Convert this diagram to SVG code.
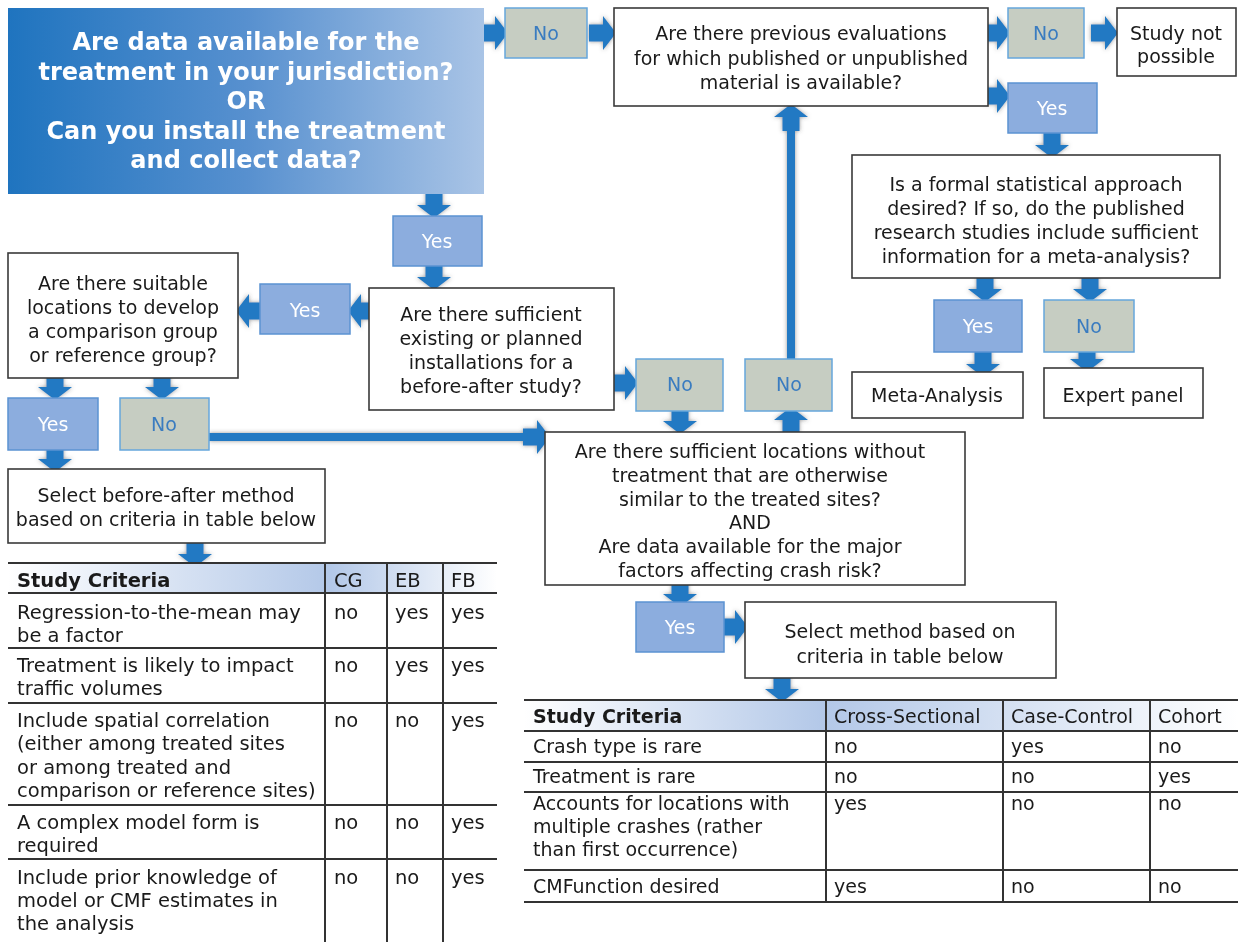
<svg xmlns="http://www.w3.org/2000/svg" xmlns:xlink="http://www.w3.org/1999/xlink" width="1244" height="942" viewBox="0 0 1244 942">
<style>
  .box{fill:#fff;stroke:#3a3a3a;stroke-width:1.6}
  .t{font-family:"DejaVu Sans",Verdana,sans-serif;font-size:19px;fill:#1a1a1a;text-anchor:middle}
  .tl{font-family:"DejaVu Sans",Verdana,sans-serif;font-size:19.5px;fill:#1a1a1a}
  .tr{font-family:"DejaVu Sans",Verdana,sans-serif;font-size:19px;fill:#1a1a1a}
  .title{font-family:"DejaVu Sans",Verdana,sans-serif;font-size:24px;font-weight:bold;fill:#fff;text-anchor:middle}
  .yes{fill:#8cadde;stroke:#5b93d2;stroke-width:1.5}
  .no{fill:#c6cdc2;stroke:#66a6dc;stroke-width:1.5}
  .yt{font-family:"DejaVu Sans",Verdana,sans-serif;font-size:19px;fill:#fff;text-anchor:middle}
  .nt{font-family:"DejaVu Sans",Verdana,sans-serif;font-size:19px;fill:#3a7cc0;text-anchor:middle}
  .arr{fill:#2279c3;filter:url(#sh)}
  .grid{stroke:#333;stroke-width:2}
</style>
<defs>
  <linearGradient id="tg" x1="0" y1="0" x2="1" y2="0">
    <stop offset="0" stop-color="#1f74bf"/>
    <stop offset="0.5" stop-color="#5790cf"/>
    <stop offset="1" stop-color="#a9c4e6"/>
  </linearGradient>
  <linearGradient id="hg1" gradientUnits="userSpaceOnUse" x1="8" y1="0" x2="497" y2="0">
    <stop offset="0" stop-color="#ffffff"/>
    <stop offset="0.66" stop-color="#b3c8e8"/>
    <stop offset="1" stop-color="#ffffff"/>
  </linearGradient>
  <linearGradient id="hg2" gradientUnits="userSpaceOnUse" x1="524" y1="0" x2="1238" y2="0">
    <stop offset="0" stop-color="#ffffff"/>
    <stop offset="0.42" stop-color="#b3c8e8"/>
    <stop offset="1" stop-color="#ffffff"/>
  </linearGradient>
  <filter id="sh" filterUnits="userSpaceOnUse" x="0" y="0" width="1244" height="942">
    <feDropShadow dx="0" dy="0" stdDeviation="2.2" flood-color="#444" flood-opacity="0.55"/>
  </filter>
  <path id="ar" d="M-27,-8.5 L-13,-8.5 L-13,-17 L0,0 L-13,17 L-13,8.5 L-27,8.5 Z"/>
</defs>

<g id="connectors" class="arr">
  <rect x="209" y="433" width="322" height="8"/>
  <rect x="787" y="116" width="8" height="244"/>
  <use href="#ar" transform="translate(508,33)"/>
  <use href="#ar" transform="translate(616,33)"/>
  <use href="#ar" transform="translate(1010,33)"/>
  <use href="#ar" transform="translate(1118,33)"/>
  <use href="#ar" transform="translate(1010,96)"/>
  <use href="#ar" transform="translate(1052,158) rotate(90)"/>
  <use href="#ar" transform="translate(985,302) rotate(90)"/>
  <use href="#ar" transform="translate(1090,302) rotate(90)"/>
  <use href="#ar" transform="translate(983,377) rotate(90)"/>
  <use href="#ar" transform="translate(1087,372) rotate(90)"/>
  <use href="#ar" transform="translate(434,218) rotate(90)"/>
  <use href="#ar" transform="translate(434,290) rotate(90)"/>
  <use href="#ar" transform="translate(348,311) rotate(180)"/>
  <use href="#ar" transform="translate(236,311) rotate(180)"/>
  <use href="#ar" transform="translate(55,400) rotate(90)"/>
  <use href="#ar" transform="translate(162,400) rotate(90)"/>
  <use href="#ar" transform="translate(55,472) rotate(90)"/>
  <use href="#ar" transform="translate(195,567) rotate(90)"/>
  <use href="#ar" transform="translate(638,383)"/>
  <use href="#ar" transform="translate(680,434) rotate(90)"/>
  <use href="#ar" transform="translate(791,407) rotate(-90)"/>
  <use href="#ar" transform="translate(791,104) rotate(-90)"/>
  <use href="#ar" transform="translate(550,437)"/>
  <use href="#ar" transform="translate(680,607) rotate(90)"/>
  <use href="#ar" transform="translate(748,627)"/>
  <use href="#ar" transform="translate(782,702) rotate(90)"/>
</g>

<g id="n-title">
  <rect x="8" y="8" width="476" height="186" fill="url(#tg)"/>
  <text class="title" x="246" y="50">Are data available for the</text>
  <text class="title" x="246" y="80">treatment in your jurisdiction?</text>
  <text class="title" x="246" y="109">OR</text>
  <text class="title" x="246" y="139">Can you install the treatment</text>
  <text class="title" x="246" y="168">and collect data?</text>
</g>

<g id="n-no1"><rect class="no" x="505" y="8" width="82" height="50"/><text class="nt" x="546" y="40">No</text></g>

<g id="n-prev">
  <rect class="box" x="614" y="8" width="374" height="98"/>
  <text class="t" x="801" y="40">Are there previous evaluations</text>
  <text class="t" x="801" y="65">for which published or unpublished</text>
  <text class="t" x="801" y="89">material is available?</text>
</g>

<g id="n-no2"><rect class="no" x="1008" y="8" width="76" height="50"/><text class="nt" x="1046" y="40">No</text></g>

<g id="n-notpossible">
  <rect class="box" x="1117" y="8" width="119" height="68"/>
  <text class="t" x="1176" y="40">Study not</text>
  <text class="t" x="1176" y="63">possible</text>
</g>

<g id="n-yes-prev"><rect class="yes" x="1008" y="83" width="89" height="50"/><text class="yt" x="1052" y="115">Yes</text></g>

<g id="n-formal">
  <rect class="box" x="852" y="155" width="368" height="123"/>
  <text class="t" x="1036" y="191">Is a formal statistical approach</text>
  <text class="t" x="1036" y="215">desired? If so, do the published</text>
  <text class="t" x="1036" y="239">research studies include sufficient</text>
  <text class="t" x="1036" y="263">information for a meta-analysis?</text>
</g>

<g id="n-yes-meta"><rect class="yes" x="934" y="300" width="88" height="52"/><text class="yt" x="978" y="333">Yes</text></g>
<g id="n-no-expert"><rect class="no" x="1044" y="300" width="90" height="52"/><text class="nt" x="1089" y="333">No</text></g>

<g id="n-meta"><rect class="box" x="852" y="372" width="171" height="46"/><text class="t" x="937" y="402">Meta-Analysis</text></g>
<g id="n-expert"><rect class="box" x="1044" y="368" width="159" height="50"/><text class="t" x="1123" y="402">Expert panel</text></g>

<g id="n-yes-mid"><rect class="yes" x="393" y="216" width="89" height="50"/><text class="yt" x="437" y="248">Yes</text></g>

<g id="n-install">
  <rect class="box" x="369" y="288" width="245" height="122"/>
  <text class="t" x="491" y="321">Are there sufficient</text>
  <text class="t" x="491" y="345">existing or planned</text>
  <text class="t" x="491" y="369">installations for a</text>
  <text class="t" x="491" y="393">before-after study?</text>
</g>

<g id="n-yes-left"><rect class="yes" x="260" y="284" width="90" height="50"/><text class="yt" x="305" y="317">Yes</text></g>

<g id="n-suitable">
  <rect class="box" x="8" y="253" width="230" height="125"/>
  <text class="t" x="123" y="290">Are there suitable</text>
  <text class="t" x="123" y="314">locations to develop</text>
  <text class="t" x="123" y="338">a comparison group</text>
  <text class="t" x="123" y="362">or reference group?</text>
</g>

<g id="n-yes-ba"><rect class="yes" x="8" y="398" width="90" height="52"/><text class="yt" x="53" y="431">Yes</text></g>
<g id="n-no-ba"><rect class="no" x="120" y="398" width="89" height="52"/><text class="nt" x="164" y="431">No</text></g>

<g id="n-no-install"><rect class="no" x="636" y="359" width="87" height="52"/><text class="nt" x="680" y="391">No</text></g>
<g id="n-no-cs"><rect class="no" x="745" y="359" width="87" height="52"/><text class="nt" x="789" y="391">No</text></g>

<g id="n-locations">
  <rect class="box" x="545" y="432" width="420" height="153"/>
  <text class="t" x="750" y="458">Are there sufficient locations without</text>
  <text class="t" x="750" y="482">treatment that are otherwise</text>
  <text class="t" x="750" y="506">similar to the treated sites?</text>
  <text class="t" x="750" y="529">AND</text>
  <text class="t" x="750" y="553">Are data available for the major</text>
  <text class="t" x="750" y="577">factors affecting crash risk?</text>
</g>

<g id="n-yes-cs"><rect class="yes" x="636" y="602" width="88" height="50"/><text class="yt" x="680" y="634">Yes</text></g>

<g id="n-select-cs">
  <rect class="box" x="745" y="602" width="311" height="76"/>
  <text class="t" x="900" y="638">Select method based on</text>
  <text class="t" x="900" y="663">criteria in table below</text>
</g>

<g id="n-select-ba">
  <rect class="box" x="8" y="469" width="317" height="74"/>
  <text class="t" x="166" y="502">Select before-after method</text>
  <text class="t" x="166" y="526">based on criteria in table below</text>
</g>

<g id="n-table-ba">
  <rect x="8" y="563" width="489" height="30" fill="url(#hg1)"/>
  <g class="grid">
    <line x1="8" y1="563" x2="497" y2="563"/>
    <line x1="8" y1="593" x2="497" y2="593"/>
    <line x1="8" y1="648" x2="497" y2="648"/>
    <line x1="8" y1="703" x2="497" y2="703"/>
    <line x1="8" y1="805" x2="497" y2="805"/>
    <line x1="8" y1="859" x2="497" y2="859"/>
    <line x1="325" y1="563" x2="325" y2="942"/>
    <line x1="387" y1="563" x2="387" y2="942"/>
    <line x1="443" y1="563" x2="443" y2="942"/>
  </g>
  <text class="tl" x="17" y="587" font-weight="bold">Study Criteria</text>
  <text class="tl" x="334" y="587">CG</text>
  <text class="tl" x="395" y="587">EB</text>
  <text class="tl" x="451" y="587">FB</text>
  <text class="tl" x="17" y="619">Regression-to-the-mean may</text>
  <text class="tl" x="17" y="642">be a factor</text>
  <text class="tl" x="334" y="619">no</text><text class="tl" x="395" y="619">yes</text><text class="tl" x="451" y="619">yes</text>
  <text class="tl" x="17" y="672">Treatment is likely to impact</text>
  <text class="tl" x="17" y="695">traffic volumes</text>
  <text class="tl" x="334" y="672">no</text><text class="tl" x="395" y="672">yes</text><text class="tl" x="451" y="672">yes</text>
  <text class="tl" x="17" y="727">Include spatial correlation</text>
  <text class="tl" x="17" y="750">(either among treated sites</text>
  <text class="tl" x="17" y="774">or among treated and</text>
  <text class="tl" x="17" y="797">comparison or reference sites)</text>
  <text class="tl" x="334" y="727">no</text><text class="tl" x="395" y="727">no</text><text class="tl" x="451" y="727">yes</text>
  <text class="tl" x="17" y="829">A complex model form is</text>
  <text class="tl" x="17" y="852">required</text>
  <text class="tl" x="334" y="829">no</text><text class="tl" x="395" y="829">no</text><text class="tl" x="451" y="829">yes</text>
  <text class="tl" x="17" y="884">Include prior knowledge of</text>
  <text class="tl" x="17" y="907">model or CMF estimates in</text>
  <text class="tl" x="17" y="930">the analysis</text>
  <text class="tl" x="334" y="884">no</text><text class="tl" x="395" y="884">no</text><text class="tl" x="451" y="884">yes</text>
</g>

<g id="n-table-cs">
  <rect x="524" y="700" width="714" height="32" fill="url(#hg2)"/>
  <g class="grid">
    <line x1="524" y1="700" x2="1238" y2="700"/>
    <line x1="524" y1="731" x2="1238" y2="731"/>
    <line x1="524" y1="762" x2="1238" y2="762"/>
    <line x1="524" y1="792" x2="1238" y2="792"/>
    <line x1="524" y1="870" x2="1238" y2="870"/>
    <line x1="524" y1="902" x2="1238" y2="902"/>
    <line x1="826" y1="700" x2="826" y2="902"/>
    <line x1="1003" y1="700" x2="1003" y2="902"/>
    <line x1="1150" y1="700" x2="1150" y2="902"/>
  </g>
  <text class="tr" x="533" y="723" font-weight="bold">Study Criteria</text>
  <text class="tr" x="834" y="723">Cross-Sectional</text>
  <text class="tr" x="1011" y="723">Case-Control</text>
  <text class="tr" x="1158" y="723">Cohort</text>
  <text class="tr" x="533" y="753">Crash type is rare</text>
  <text class="tr" x="834" y="753">no</text><text class="tr" x="1011" y="753">yes</text><text class="tr" x="1158" y="753">no</text>
  <text class="tr" x="533" y="783">Treatment is rare</text>
  <text class="tr" x="834" y="783">no</text><text class="tr" x="1011" y="783">no</text><text class="tr" x="1158" y="783">yes</text>
  <text class="tr" x="533" y="810">Accounts for locations with</text>
  <text class="tr" x="533" y="833">multiple crashes (rather</text>
  <text class="tr" x="533" y="856">than first occurrence)</text>
  <text class="tr" x="834" y="810">yes</text><text class="tr" x="1011" y="810">no</text><text class="tr" x="1158" y="810">no</text>
  <text class="tr" x="533" y="893">CMFunction desired</text>
  <text class="tr" x="834" y="893">yes</text><text class="tr" x="1011" y="893">no</text><text class="tr" x="1158" y="893">no</text>
</g>
</svg>
